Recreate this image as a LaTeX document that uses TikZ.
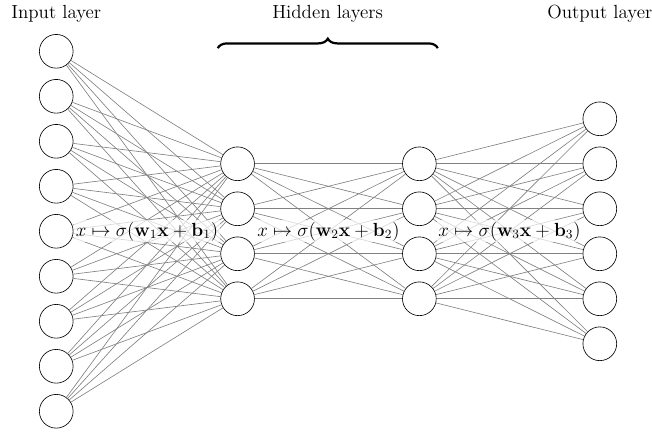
\documentclass[tikz,border=0pt]{standalone}
\usepackage{amsmath,amssymb}
\usetikzlibrary{calc,decorations.pathreplacing,positioning}

\begin{document}
\begin{tikzpicture}[
  neuron/.style={circle, draw, thin, minimum size=7.5mm, inner sep=0pt},
  synapse/.style={draw, gray, thin},
  layerlabel/.style={font=\large},
  maplabel/.style={fill=white, fill opacity=0.7, text opacity=1, inner sep=1pt, font=\large}
]
\useasboundingbox (0,0) rectangle (14.49,9.64);
% neurons
\foreach \i in {1,...,9}
  \node[neuron] (in\i) at (1.25, 9.5-\i) {};
\foreach \i in {1,...,4}
  \node[neuron] (ha\i) at (5.28, 7-\i) {};
\foreach \i in {1,...,4}
  \node[neuron] (hb\i) at (9.32, 7-\i) {};
\foreach \i in {1,...,6}
  \node[neuron] (out\i) at (13.33, 8-\i) {};
% connections
\foreach \i in {1,...,9}
  \foreach \j in {1,...,4}
    \draw[synapse] (in\i) -- (ha\j);
\foreach \i in {1,...,4}
  \foreach \j in {1,...,4}
    \draw[synapse] (ha\i) -- (hb\j);
\foreach \i in {1,...,4}
  \foreach \j in {1,...,6}
    \draw[synapse] (hb\i) -- (out\j);
% maps
\node[maplabel] (map1) at ($(in5)!0.5!(ha1|-in5)$) {$x\mapsto\sigma(\mathbf{w}_1\mathbf{x}+\mathbf{b}_1)$};
\node[maplabel] (map2) at ($(ha1|-in5)!0.5!(hb1|-in5)$) {$x\mapsto\sigma(\mathbf{w}_2\mathbf{x}+\mathbf{b}_2)$};
\node[maplabel] (map3) at ($(hb1|-in5)!0.5!(out1|-in5)$) {$x\mapsto\sigma(\mathbf{w}_3\mathbf{x}+\mathbf{b}_3)$};
% titles
\node[layerlabel] (tin) at (1.25, 9.33) {Input layer};
\node[layerlabel] (thid) at (7.28, 9.33) {Hidden layers};
\node[layerlabel] (tout) at (13.33, 9.33) {Output layer};
\coordinate (bl) at (4.84, 8.57);
\coordinate (br) at (9.73, 8.57);
\draw[decorate, decoration={brace, amplitude=6pt}, line width=1.4pt] (bl) -- (br);
\end{tikzpicture}
\end{document}
